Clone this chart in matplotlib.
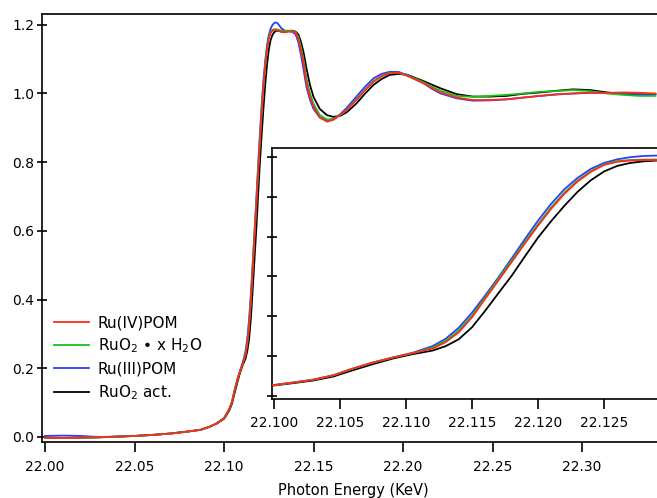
import matplotlib
matplotlib.use("Agg")
import matplotlib.pyplot as plt

# Photon energy grid (keV)
energy = [22.000, 22.010, 22.020, 22.030, 22.040, 22.050, 22.060, 22.070, 22.080, 22.087, 22.092, 22.096,
          22.100, 22.1015, 22.103, 22.1045, 22.106, 22.1075, 22.109, 22.1105,
          22.112, 22.113, 22.114, 22.115, 22.116, 22.117, 22.118, 22.119, 22.120, 22.121,
          22.122, 22.123, 22.124, 22.125, 22.126, 22.127, 22.128, 22.129, 22.130,
          22.132, 22.134, 22.136, 22.138, 22.140, 22.1415, 22.143, 22.1445, 22.146, 22.148, 22.150,
          22.1535, 22.1575, 22.161, 22.165, 22.1685, 22.174, 22.1785, 22.1835, 22.188, 22.1925,
          22.1975, 22.202, 22.2065, 22.2115, 22.216, 22.221, 22.230, 22.239, 22.2485, 22.258,
          22.267, 22.2765, 22.286, 22.295, 22.3045, 22.314, 22.323, 22.332, 22.341]

ru4_pom = [-0.002, -0.003, -0.002, -0.001, 0.001, 0.003, 0.006, 0.010, 0.016, 0.021, 0.030, 0.040,
           0.055, 0.068, 0.082, 0.104, 0.138, 0.168, 0.193, 0.215,
           0.238, 0.270, 0.320, 0.395, 0.488, 0.580, 0.672, 0.765, 0.855, 0.940,
           1.015, 1.077, 1.125, 1.160, 1.176, 1.182, 1.185, 1.185, 1.184,
           1.180, 1.178, 1.180, 1.180, 1.177, 1.160, 1.125, 1.085, 1.030, 0.990, 0.962,
           0.930, 0.918, 0.923, 0.937, 0.952, 0.981, 1.008, 1.034, 1.050, 1.059,
           1.060, 1.052, 1.042, 1.030, 1.016, 1.003, 0.988, 0.981, 0.981, 0.983,
           0.988, 0.993, 0.998, 1.000, 1.002, 1.002, 1.003, 1.002, 1.000]

ruo2_hydrate = [-0.002, -0.003, -0.002, -0.001, 0.001, 0.003, 0.006, 0.010, 0.016, 0.021, 0.030, 0.040,
                0.055, 0.068, 0.082, 0.104, 0.138, 0.168, 0.193, 0.215,
                0.243, 0.277, 0.329, 0.403, 0.495, 0.588, 0.680, 0.773, 0.862, 0.947,
                1.021, 1.082, 1.129, 1.163, 1.179, 1.185, 1.187, 1.187, 1.186,
                1.183, 1.182, 1.183, 1.182, 1.178, 1.165, 1.135, 1.095, 1.045, 1.000, 0.970,
                0.937, 0.924, 0.926, 0.938, 0.953, 0.983, 1.010, 1.036, 1.051, 1.060,
                1.061, 1.053, 1.044, 1.033, 1.020, 1.008, 0.993, 0.990, 0.993, 0.996,
                1.000, 1.005, 1.007, 1.010, 1.007, 1.000, 0.996, 0.993, 0.993]

ru3_pom = [0.003, 0.004, 0.003, 0.000, 0.001, 0.003, 0.006, 0.010, 0.016, 0.021, 0.030, 0.040,
           0.055, 0.068, 0.082, 0.104, 0.138, 0.168, 0.193, 0.217,
           0.250, 0.287, 0.343, 0.418, 0.505, 0.595, 0.690, 0.787, 0.880, 0.965,
           1.038, 1.095, 1.140, 1.170, 1.188, 1.199, 1.205, 1.207, 1.204,
           1.190, 1.183, 1.182, 1.180, 1.172, 1.150, 1.112, 1.068, 1.020, 0.982, 0.955,
           0.930, 0.922, 0.925, 0.940, 0.958, 0.991, 1.018, 1.044, 1.057, 1.063,
           1.063, 1.054, 1.042, 1.030, 1.014, 1.000, 0.986, 0.979, 0.980, 0.983,
           0.988, 0.993, 0.997, 1.000, 1.002, 1.002, 1.001, 0.998, 0.998]

ruo2_act = [-0.002, -0.003, -0.002, -0.001, 0.001, 0.003, 0.006, 0.010, 0.016, 0.021, 0.030, 0.039,
            0.053, 0.065, 0.078, 0.098, 0.130, 0.160, 0.188, 0.210,
            0.228, 0.250, 0.285, 0.345, 0.428, 0.516, 0.603, 0.700, 0.795, 0.878,
            0.955, 1.025, 1.083, 1.127, 1.155, 1.170, 1.178, 1.182, 1.183,
            1.180, 1.180, 1.182, 1.183, 1.180, 1.172, 1.150, 1.118, 1.075, 1.025, 0.990,
            0.955, 0.937, 0.932, 0.935, 0.945, 0.971, 0.998, 1.025, 1.042, 1.054,
            1.057, 1.055, 1.046, 1.036, 1.026, 1.015, 0.998, 0.991, 0.991, 0.993,
            0.999, 1.003, 1.008, 1.012, 1.010, 1.003, 0.998, 0.997, 0.998]

labels = ["Ru(IV)POM", "RuO$_2$ • x H$_2$O", "Ru(III)POM", "RuO$_2$ act."]
colors = ["#ff2a1a", "#18c018", "#2a3cff", "#000000"]

main_yticks = [0.0, 0.2, 0.4, 0.6, 0.8, 1.0, 1.2]
main_xticks = [22.00, 22.05, 22.10, 22.15, 22.20, 22.25, 22.30]
inset_xticks = [22.100, 22.105, 22.110, 22.115, 22.120, 22.125]

plt.rcParams['font.family'] = ['DejaVu Sans']

fig = plt.figure(figsize=(6.57, 4.98), dpi=100)
ax = fig.add_axes([42/657, 56/498, 1 - 42/657 + 0.01, 428/498])

series = [ru4_pom, ruo2_hydrate, ru3_pom, ruo2_act]
lines = []
for s, lab, c in zip(series, labels, colors):
    ln, = ax.plot(energy, s, color=c, lw=1.3, label=lab)
    lines.append(ln)
# draw order: black bottom, red top
for z, ln in zip([5, 4, 3, 2], lines):
    ln.set_zorder(z)

ax.set_xlim(21.9983, 22.3419 + 0.01 * (22.3419 - 21.9983) / (615/657))
ax.set_ylim(-0.0146, 1.2314)
ax.set_xticks(main_xticks)
ax.set_xticklabels([f"{t:.2f}" for t in main_xticks])
ax.set_yticks(main_yticks)
ax.set_yticklabels([f"{t:.1f}" for t in main_yticks])
ax.tick_params(axis='y', direction='inout', length=7, width=1.2, labelsize=10, pad=2)
ax.tick_params(axis='x', direction='out', length=7, width=1.2, labelsize=10, pad=6)
ax.spines['right'].set_visible(False)
for sp in ['left', 'bottom', 'top']:
    ax.spines[sp].set_linewidth(1.2)

leg = ax.legend(handles=lines, loc='upper left', bbox_to_anchor=(54/657, 1 - 315/498),
                bbox_transform=fig.transFigure, frameon=False, fontsize=11,
                handlelength=2.3, handletextpad=0.55, labelspacing=0.42, borderpad=0, borderaxespad=0)

fig.text(353/657, 1 - 490/498, "Photon Energy (KeV)", ha='center', va='center', fontsize=10.5)

# inset
axi = fig.add_axes([272/657, 99/498, 1 - 272/657 + 0.01, 251/498])
axi.set_facecolor('white')
for s, c, z in zip(series, colors, [5, 4, 3, 2]):
    axi.plot(energy, s, color=c, lw=1.3, zorder=z)
xi0 = 22.09985
xi1 = xi0 + (385 + 6.57) / 13200
axi.set_xlim(xi0, xi1)
axi.set_ylim(-0.015, 1.245)
axi.set_xticks(inset_xticks)
axi.set_xticklabels([f"{t:.3f}" for t in inset_xticks])
axi.set_yticks(main_yticks)
axi.set_yticklabels([])
axi.tick_params(axis='y', direction='inout', length=7, width=1.2)
axi.tick_params(axis='x', direction='out', length=7, width=1.2, labelsize=10, pad=5)
axi.spines['right'].set_visible(False)
for sp in ['left', 'bottom', 'top']:
    axi.spines[sp].set_linewidth(1.2)

fig.savefig("out.png", dpi=100)
